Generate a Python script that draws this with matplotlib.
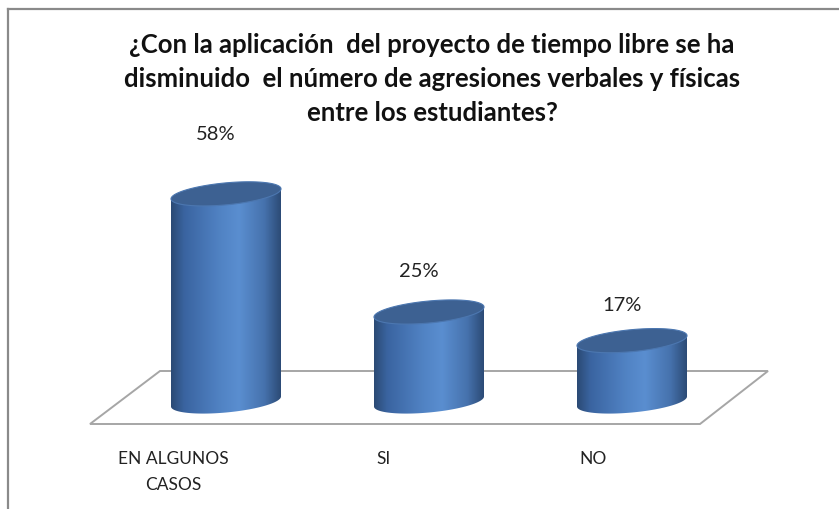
import numpy as np
import matplotlib
matplotlib.use("Agg")
import matplotlib.pyplot as plt
from matplotlib.patches import Polygon
from matplotlib.colors import LinearSegmentedColormap

categories = ["EN ALGUNOS\nCASOS", "SI", "NO"]
values = [58, 25, 17]
labels = ["58%", "25%", "17%"]
title = ("¿Con la aplicación  del proyecto de tiempo libre se ha\n"
         "disminuido  el número de agresiones verbales y físicas\n"
         "entre los estudiantes?")

W, H = 839, 510
fig = plt.figure(figsize=(W / 100, H / 100), dpi=100)
fig.patch.set_facecolor("white")

# axes over the whole figure, scaled so bars land where Excel put them
ax = fig.add_axes([0, 0, 1, 1])
step = 203.0        # px between categories
ppu = 3.58          # px per percent
x0, y0 = 226.0, 402.5
xlim = (-x0 / step, (W - x0) / step)
ylim = ((y0 - H) / ppu, y0 / ppu)

def px(x, y):
    return x / W, 1 - y / H

# chart frame
fig.add_artist(plt.Line2D([px(8, 0)[0], px(8, 0)[0]], [0, px(0, 10)[1]], color="#8a8a8a", lw=1.6))
fig.add_artist(plt.Line2D([px(8, 0)[0], 1], [px(0, 10)[1], px(0, 10)[1]], color="#8a8a8a", lw=1.6))

# floor
floor = [px(90, 425), px(160, 372), px(768, 372), px(700, 425)]
ax.add_patch(Polygon(floor, closed=True, transform=fig.transFigure, fill=False,
                     edgecolor="#a6a6a6", lw=1.4, zorder=1))

cmap = LinearSegmentedColormap.from_list("cyl", [
    (0.0, "#2b4a74"), (0.12, "#3a64a0"), (0.45, "#5183c4"),
    (0.62, "#5a8ed0"), (0.85, "#4672ad"), (1.0, "#2c4b76")])

w = 110 / step
b = 11.0 / ppu
s = 5.0 / ppu
t = np.linspace(0, 2 * np.pi, 241)

for i, v in enumerate(values):
    xl, xr = i - w / 2, i + w / 2
    tb = np.linspace(np.pi, 2 * np.pi, 120)
    bx = i + w / 2 * np.cos(tb)
    by = b * np.sin(tb) + s * np.cos(tb)
    body = [(xl, v - s)] + list(zip(bx, by)) + [(xr, v + s)]
    patch = Polygon(body, closed=True, facecolor="none", edgecolor="none")
    ax.add_patch(patch)
    grad = np.linspace(0, 1, 256).reshape(1, -1)
    im = ax.imshow(grad, extent=[xl, xr, -s - b - 1, v + s + b], aspect="auto",
                   cmap=cmap, zorder=3, interpolation="bicubic")
    im.set_clip_path(patch)
    tx = i + w / 2 * np.cos(t)
    ty = v + b * np.sin(t) + s * np.cos(t)
    ax.add_patch(Polygon(list(zip(tx, ty)), closed=True, facecolor="#3d6192",
                         edgecolor="#4c77b0", lw=0.8, zorder=4))
    ax.text(i - 0.05, v * 1.16 + 7.5, labels[i], ha="center", va="center",
            fontsize=14.5, family="Lato", color="#222222")
    # perspective: category labels sit left of the bars, more so on the left
    ax.text(i - 0.26 + 0.035 * i, -13.5, categories[i], ha="center", va="top",
            fontsize=12.5, family="Lato", color="#222222", linespacing=1.75)

ax.set_xlim(*xlim)
ax.set_ylim(*ylim)
ax.axis("off")

fig.text(px(432, 0)[0], px(0, 33)[1], title, ha="center", va="top",
         fontsize=18.5, fontweight="bold", family="Lato", linespacing=1.5, color="#111111")

fig.savefig("out.png", dpi=100, facecolor="white")
